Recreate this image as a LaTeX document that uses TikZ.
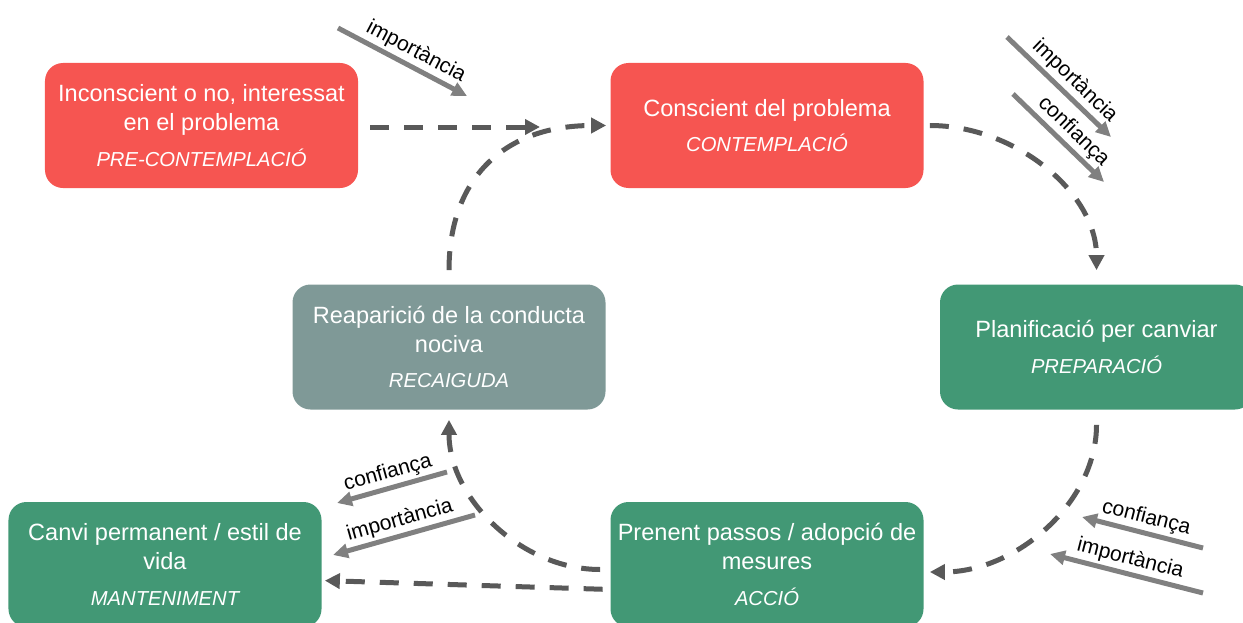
\documentclass[tikz,border=0pt]{standalone}
\usepackage{fontspec}
\setmainfont{Liberation Sans}
\usetikzlibrary{arrows.meta}
\definecolor{stagered}{RGB}{246,85,81}
\definecolor{stagegreen}{RGB}{66,152,117}
\definecolor{stagegrey}{RGB}{127,153,151}
\definecolor{flowgrey}{RGB}{89,89,89}
\definecolor{hintgrey}{RGB}{128,128,128}
\newcommand{\phasename}[1]{{\fontsize{11.5}{14}\selectfont\itshape #1}}
\begin{document}
\begin{tikzpicture}
      [x=0.2mm, y=-0.2mm,
      stage/.style={rectangle, rounded corners=3.6mm, minimum width=62.6mm, minimum height=25mm,
        inner sep=0pt, align=center, text=white, font=\fontsize{13.4}{16.4}\selectfont},
      flow/.style={flowgrey, line width=1mm, dash pattern=on 3.8mm off 3mm,
        -{Triangle[length=3mm,width=3mm]}},
      hint/.style={hintgrey, line width=1mm, -{Triangle[length=3mm,width=2.8mm]}},
      tag/.style={sloped, above, text=black, font=\fontsize{12}{14}\selectfont, inner sep=1.5pt},
      ]
      \useasboundingbox (0,0) rectangle (1243,623);
      \node[stage, fill=stagered] (pre) at (201.5,125.5)
        {Inconscient o no, interessat\\en el problema\\[4pt]\phasename{PRE-CONTEMPLACIÓ}};
      \node[stage, fill=stagered] (cont) at (767,125.5)
        {Conscient del problema\\[4pt]\phasename{CONTEMPLACIÓ}};
      \node[stage, fill=stagegreen] (prep) at (1096.5,347)
        {Planificació per canviar\\[4pt]\phasename{PREPARACIÓ}};
      \node[stage, fill=stagegreen] (accio) at (767,564.5)
        {Prenent passos / adopció de\\mesures\\[4pt]\phasename{ACCIÓ}};
      \node[stage, fill=stagegreen] (mant) at (165,564.5)
        {Canvi permanent / estil de\\vida\\[4pt]\phasename{MANTENIMENT}};
      \node[stage, fill=stagegrey] (recai) at (449,347)
        {Reaparició de la conducta\\nociva\\[4pt]\phasename{RECAIGUDA}};

      \coordinate (join) at (540,127);
      \draw[flow, shorten <=2.4mm] (pre.east |- join) -- (join);
      \draw[flow, shorten <=2.8mm, shorten >=0.8mm] (recai.north) to[out=90,in=180, looseness=1.2] (cont.west);
      \draw[flow, shorten <=1.2mm, shorten >=2.8mm] (cont.east) to[out=0,in=90] (prep.north);
      \draw[flow, shorten <=3mm, shorten >=1.2mm] (prep.south) to[out=-90,in=0] ([yshift=-1.5mm]accio.east);
      \draw[flow, shorten <=1.5mm, shorten >=0.6mm] ([yshift=-5mm]accio.west) -- ([yshift=-3.2mm]mant.east);
      \draw[flow, shorten <=2mm, shorten >=2mm] ([yshift=-1mm]accio.west) to[out=180,in=-90] (recai.south);

      \coordinate (imp1s) at (338,28);   \coordinate (imp1e) at (467,96);
      \coordinate (imp2s) at (1007,37);  \coordinate (imp2e) at (1111,137);
      \coordinate (conf2s) at (1013,94); \coordinate (conf2e) at (1104,182);
      \coordinate (conf3s) at (1203,548); \coordinate (conf3e) at (1082,517);
      \coordinate (imp3s) at (1203,593);  \coordinate (imp3e) at (1050,554);
      \coordinate (conf4s) at (447,472);  \coordinate (conf4e) at (337,503);
      \coordinate (imp4s) at (475,515);   \coordinate (imp4e) at (333,555);
      \draw[hint] (imp1s) -- node[tag, pos=0.55] {importància} (imp1e);
      \draw[hint] (imp2s) -- node[tag, pos=0.55] {importància} (imp2e);
      \draw[hint] (conf2s) -- node[tag, pos=0.55] {confiança} (conf2e);
      \draw[hint] (conf3s) -- node[tag, pos=0.5] {confiança} (conf3e);
      \draw[hint] (imp3s) -- node[tag, pos=0.5] {importància} (imp3e);
      \draw[hint] (conf4s) -- node[tag, pos=0.5] {confiança} (conf4e);
      \draw[hint] (imp4s) -- node[tag, pos=0.5] {importància} (imp4e);
\end{tikzpicture}
\end{document}
